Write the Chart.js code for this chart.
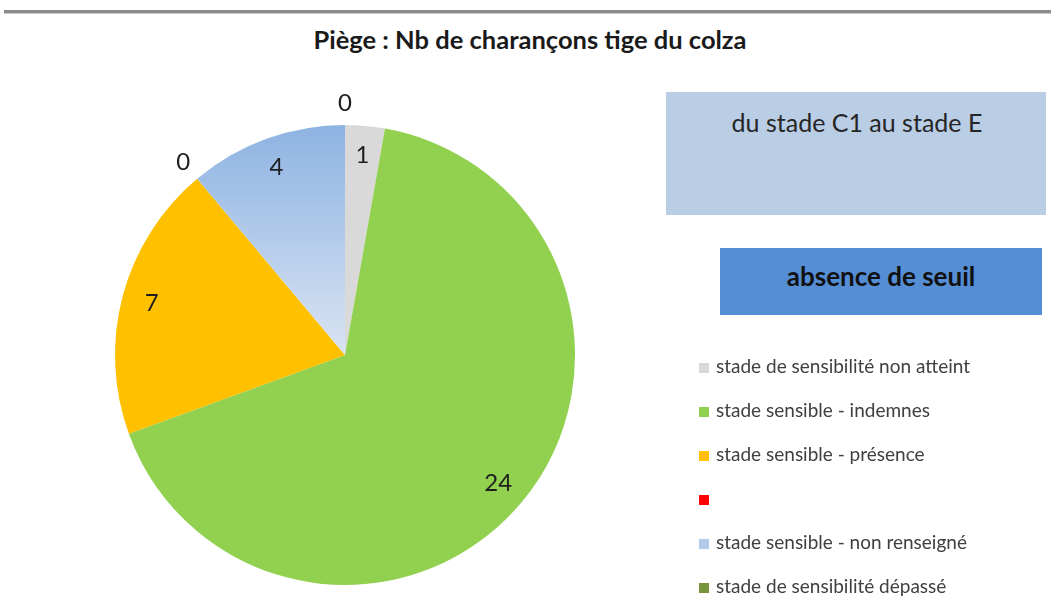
<!DOCTYPE html>
<html>
<head>
<meta charset="utf-8">
<script src="https://cdn.jsdelivr.net/npm/chart.js@4"></script>
<style>
  body { margin: 0; background: #fff; font-family: Lato, 'Open Sans', sans-serif; }
  #wrap { position: relative; width: 1051px; height: 615px; overflow: hidden; }
  #topline { position: absolute; left: 4px; right: 0; top: 10px; height: 3px; background: #8a8a8a; border-bottom: 1px solid #c8c8c8; }
  #title { position: absolute; left: 0; width: 1060px; top: 24px; text-align: center; font-size: 25.5px; font-weight: bold; color: #1a1a1a; }
  canvas { position: absolute; left: 0; top: 0; }
  .box { position: absolute; text-align: center; color: #262626; }
  #stage { left: 666px; top: 92px; width: 378px; height: 123px; background: #b9cde5; line-height: 60px; font-size: 25px; padding-left: 2px; }
  #seuil { left: 720px; top: 248px; width: 322px; height: 67px; background: #558ed5; line-height: 56px; font-size: 26px; font-weight: bold; color: #111; }
  .leg { position: absolute; left: 699px; font-size: 19px; line-height: 22px; color: #404040; white-space: nowrap; }
  .leg span.sw { display: inline-block; width: 10px; height: 10px; margin-right: 7px; vertical-align: 0px; }
</style>
</head>
<body>
<div id="wrap">
  <div id="topline"></div>
  <div id="title">Piège : Nb de charançons tige du colza</div>
  <canvas id="pieChart" width="1051" height="615"></canvas>
  <div class="box" id="stage">du stade C1 au stade E</div>
  <div class="box" id="seuil">absence de seuil</div>
  <div id="legend"></div>
</div>
<script>
// categories and values
const categories = [
  'stade de sensibilité non atteint',
  'stade sensible - indemnes',
  'stade sensible - présence',
  '',
  'stade sensible - non renseigné',
  'stade de sensibilité dépassé'
]
const counts = [1, 24, 7, 0, 4, 0]
const colors = ['#d9d9d9', '#92d050', '#ffc000', '#ff0000', '#b4c8e8', '#77933c']

// legend built as html
const legendDiv = document.getElementById('legend')
categories.forEach((name, i) => {
  const d = document.createElement('div')
  d.className = 'leg'
  d.style.top = (355 + i * 44) + 'px'
  d.innerHTML = '<span class="sw" style="background:' + colors[i] + '"></span>' + name
  legendDiv.appendChild(d)
})

// numbers on the slices (zeros go outside)
const sliceLabels = {
  id: 'sliceLabels',
  afterDatasetsDraw(chart) {
    const ctx = chart.ctx
    const arcs = chart.getDatasetMeta(0).data
    ctx.save()
    ctx.font = '24px Lato, "Open Sans", sans-serif'
    ctx.fillStyle = '#1e1e1e'
    ctx.textAlign = 'center'
    ctx.textBaseline = 'middle'
    arcs.forEach((arc, i) => {
      const p = arc.getProps(['x', 'y', 'startAngle', 'endAngle', 'outerRadius'], true)
      const mid = (p.startAngle + p.endAngle) / 2
      const r = counts[i] > 0 ? p.outerRadius * 0.87 : p.outerRadius * 1.095
      ctx.fillText(String(counts[i]), p.x + Math.cos(mid) * r, p.y + Math.sin(mid) * r)
    })
    ctx.restore()
  }
}

const ctx = document.getElementById('pieChart').getContext('2d')
new Chart(ctx, {
  type: 'pie',
  data: {
    labels: categories,
    datasets: [
      {
        data: counts,
        backgroundColor: (c) => {
          if (c.dataIndex !== 4) return colors[c.dataIndex]
          const area = c.chart.chartArea
          if (!area) return colors[4]
          // blue slice is shaded from top to center
          const g = c.chart.ctx.createLinearGradient(0, area.top, 0, (area.top + area.bottom) / 2)
          g.addColorStop(0, '#8db3e2')
          g.addColorStop(1, '#dae4f3')
          return g
        },
        borderWidth: 0,
      },
    ],
  },
  options: {
    responsive: false,
    animation: false,
    layout: {
      padding: { left: 115, right: 476, top: 125, bottom: 30 },
    },
    plugins: {
      legend: { display: false },
      tooltip: { enabled: false },
    },
  },
  plugins: [sliceLabels],
})
</script>
</body>
</html>
